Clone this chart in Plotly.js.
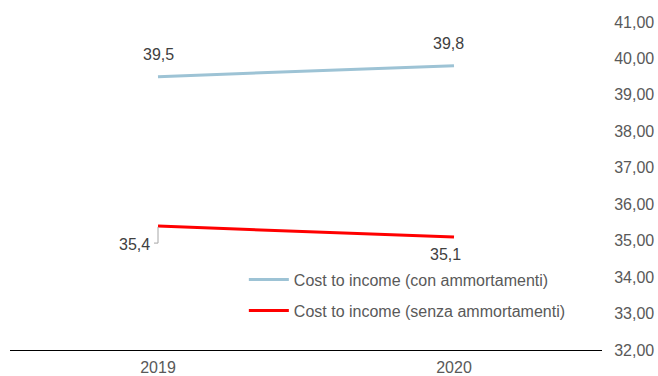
<!DOCTYPE html>
<html><head><meta charset="utf-8">
<script src="https://cdn.plot.ly/plotly-3.0.1.min.js"></script>
<style>html,body{margin:0;padding:0;background:#fff;}#chart{width:658px;height:376px;}</style>
</head><body><div id="chart"></div>
<script>
const years = ['2019', '2020'];
const conAmm = [39.5, 39.8];
const senzaAmm = [35.4, 35.1];
const seriesNames = ['Cost to income (con ammortamenti)', 'Cost to income (senza ammortamenti)'];
const yTicks = [32, 33, 34, 35, 36, 37, 38, 39, 40, 41];

const fmt = v => v.toFixed(1).replace('.', ',');
const font = {family: 'Liberation Sans, Arial, sans-serif', size: 16, color: '#595959'};
const labelFont = {family: 'Liberation Sans, Arial, sans-serif', size: 16, color: '#404040'};

const traces = [
  {x: years, y: conAmm, type: 'scatter', mode: 'lines', name: seriesNames[0],
   line: {color: '#9DC3D5', width: 3}, legend: 'legend'},
  {x: years, y: senzaAmm, type: 'scatter', mode: 'lines', name: seriesNames[1],
   line: {color: '#FF0000', width: 3}, legend: 'legend2'}
];

const annotations = [];
const shapes = [];
conAmm.forEach((v, i) => annotations.push({x: i, y: v, text: fmt(v), showarrow: false,
  yshift: 22, xshift: i === 1 ? -6 : 0, font: labelFont}));
senzaAmm.forEach((v, i) => {
  if (i === 0) {
    annotations.push({x: i, y: v, text: fmt(v), showarrow: false, xshift: -24, yshift: -18, font: labelFont});
    shapes.push({type: 'path', xref: 'x', yref: 'y', xsizemode: 'pixel', ysizemode: 'pixel',
      xanchor: i, yanchor: v, path: 'M0,-1L0,-17L-4,-17', line: {color: '#A6A6A6', width: 1}});
  } else {
    annotations.push({x: i, y: v, text: fmt(v), showarrow: false, yshift: -17, xshift: -9, font: labelFont});
  }
});

const legendBase = {bgcolor: 'rgba(0,0,0,0)', font: font, itemwidth: 40, xanchor: 'left', yanchor: 'middle', tracegroupgap: 0};

const layout = {
  width: 658, height: 376,
  margin: {l: 10, r: 56, t: 22, b: 26},
  paper_bgcolor: '#fff', plot_bgcolor: '#fff',
  separators: ',.',
  font: font,
  showlegend: true,
  legend: Object.assign({x: 0.395, y: 0.215}, legendBase),
  legend2: Object.assign({x: 0.395, y: 0.12}, legendBase),
  xaxis: {type: 'category', range: [-0.5, 1.5], autorange: false, showgrid: false, zeroline: false, showline: true,
    linecolor: '#000', linewidth: 1, ticks: 'outside', ticklen: 3, tickcolor: 'rgba(0,0,0,0)', tickfont: font, fixedrange: true},
  yaxis: {side: 'right', range: [32, 41], autorange: false, tickvals: yTicks, tickformat: '.2f',
    showgrid: false, zeroline: false, showline: false, ticks: 'outside', ticklen: 8,
    tickcolor: 'rgba(0,0,0,0)', tickfont: font},
  annotations: annotations,
  shapes: shapes
};

Plotly.newPlot('chart', traces, layout, {displayModeBar: false, staticPlot: true});
</script></body></html>
